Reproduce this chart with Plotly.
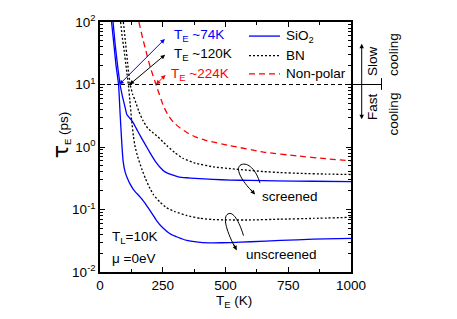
import plotly.graph_objects as go
import math

# ---------------- data ----------------
sio2_scr_T = [52, 60, 70, 80, 90, 100, 107, 115, 125, 135, 150, 165, 180, 200, 222, 240, 259, 285, 312, 345, 379, 450, 519, 600, 700, 850, 1000]
sio2_scr_tau = [100, 45, 20, 10, 6.3, 4.3, 3.3, 3.0, 2.7, 2.35, 1.8, 1.4, 1.1, 0.8, 0.58, 0.47, 0.40, 0.36, 0.334, 0.322, 0.314, 0.303, 0.296, 0.292, 0.288, 0.283, 0.279]

sio2_uns_T = [46, 55, 64, 74, 80, 86, 92, 100, 110, 120, 135, 150, 165, 180, 193, 210, 226, 250, 279, 310, 346, 400, 450, 520, 600, 720, 850, 1000]
sio2_uns_tau = [100, 45, 20, 10, 3.5, 1.3, 0.6, 0.40, 0.31, 0.255, 0.205, 0.175, 0.15, 0.125, 0.105, 0.083, 0.066, 0.051, 0.041, 0.036, 0.032, 0.0298, 0.0293, 0.0295, 0.0305, 0.032, 0.0335, 0.0345]

bn_scr_T = [93, 100, 110, 120, 130, 143, 155, 170, 190, 210, 231, 250, 270, 300, 330, 380, 452, 520, 585, 650, 718, 800, 900, 1000]
bn_scr_tau = [100, 55, 22, 10, 7, 5.1, 3.7, 2.7, 2.0, 1.7, 1.45, 1.22, 1.02, 0.80, 0.66, 0.55, 0.48, 0.45, 0.426, 0.405, 0.39, 0.378, 0.369, 0.363]

bn_uns_T = [82, 88, 96, 105, 113, 119, 126, 133, 140, 150, 166, 180, 196, 213, 240, 266, 300, 346, 400, 450, 520, 600, 718, 850, 1000]
bn_uns_tau = [100, 60, 35, 18, 10, 5.5, 2.7, 1.5, 1.0, 0.7, 0.45, 0.32, 0.23, 0.172, 0.13, 0.106, 0.092, 0.08, 0.072, 0.069, 0.068, 0.068, 0.070, 0.072, 0.075]

np_T = [155, 170, 186, 200, 223, 252, 270, 292, 320, 346, 380, 426, 519, 651, 785, 900, 1000]
np_tau = [100, 55, 31, 19, 10, 4.6, 3.3, 2.5, 2.0, 1.71, 1.45, 1.26, 1.05, 0.83, 0.72, 0.65, 0.6]

x_ticks = [0, 250, 500, 750, 1000]
x_ticklabels = ["0", "250", "500", "750", "1000"]
y_ticks = [0.01, 0.1, 1, 10, 100]
y_ticklabels = ["10<sup>-2</sup>", "10<sup>-1</sup>", "10<sup>0</sup>", "10<sup>1</sup>", "10<sup>2</sup>"]
threshold_tau = 10
crossings = [(77, "T<sub>E</sub> ~74K", "blue"), (118, "T<sub>E</sub> ~120K", "black"), (223, "T<sub>E</sub> ~224K", "red")]
legend_names = ["SiO<sub>2</sub>", "BN", "Non-polar"]

# ---------------- figure ----------------
W, H = 457, 319
ML, MR, MT, MB = 100, 106, 18, 47
PW, PH = W - ML - MR, H - MT - MB
FONT = "Liberation Sans, Arial, sans-serif"
FS = 13.5
BLUE, RED = "#0000ff", "#ff0000"
DOT, DASH = "2px,2px", "6px,4px"

def px(x, y):
    """pixel -> paper coordinates (for decorations)"""
    return (x - ML) / PW, (H - MB - y) / PH

fig = go.Figure()

def add(T, tau, color, dash, name):
    fig.add_trace(go.Scatter(
        x=T, y=tau, mode="lines", name=name, showlegend=False,
        line=dict(color=color, width=1.3, dash=dash, shape="spline", smoothing=0.3)))

add(sio2_scr_T, sio2_scr_tau, BLUE, "solid", legend_names[0])
add(sio2_uns_T, sio2_uns_tau, BLUE, "solid", legend_names[0])
add(bn_scr_T, bn_scr_tau, "black", DOT, legend_names[1])
add(bn_uns_T, bn_uns_tau, "black", DOT, legend_names[1])
add(np_T, np_tau, RED, DASH, legend_names[2])

minor_y = [m * 10 ** e for e in range(-2, 2) for m in range(2, 10)]

axis_common = dict(showline=True, linecolor="black", linewidth=1.5, mirror="allticks",
                   ticks="inside", ticklen=5, tickwidth=1.3, tickcolor="black",
                   showgrid=False, zeroline=False,
                   tickfont=dict(family=FONT, size=FS, color="black"))

fig.update_xaxes(range=[0, 1000], tickmode="array", tickvals=x_ticks, ticktext=x_ticklabels,
                 minor=dict(ticks="inside", ticklen=3, tickwidth=1.2, tickcolor="black",
                            tickvals=[125, 375, 625, 875], showgrid=False),
                 **axis_common)
fig.update_yaxes(type="log", range=[-2, 2], tickmode="array", tickvals=y_ticks, ticktext=y_ticklabels,
                 minor=dict(ticks="inside", ticklen=3, tickwidth=1.0, tickcolor="black",
                            tickmode="array", tickvals=minor_y, showgrid=False),
                 **axis_common)

shapes = []
# horizontal threshold line
shapes.append(dict(type="line", xref="paper", yref="y", x0=0, x1=1, y0=threshold_tau, y1=threshold_tau,
                   line=dict(color="black", width=1, dash="4px,3px")))
yth = (math.log10(threshold_tau) + 2) / 4
x_end = px(381.5, 0)[0]
shapes.append(dict(type="line", xref="paper", yref="paper", x0=1, x1=x_end, y0=yth, y1=yth,
                   line=dict(color="black", width=1)))
y1p = px(0, 75)[1]; y2p = px(0, 87)[1]
shapes.append(dict(type="line", xref="paper", yref="paper", x0=x_end, x1=x_end, y0=y1p, y1=y2p,
                   line=dict(color="black", width=1)))

def path_px(pts):
    s = ""
    for p in pts:
        if isinstance(p, str):
            s += p + " "
        else:
            a, b = px(*p)
            s += f"{a:.4f},{b:.4f} "
    return s.strip()

# curly arrows
shapes.append(dict(type="path", xref="paper", yref="paper",
                   path=path_px(["M", (260, 181.7), "C", (256, 168), (248, 160), (241, 163), "C", (235, 166), (240, 178), (254, 192)]),
                   line=dict(color="black", width=1)))
shapes.append(dict(type="path", xref="paper", yref="paper",
                   path=path_px(["M", (243.5, 235), "C", (239, 220), (233, 210), (228, 213), "C", (222, 216), (227, 232), (236, 249)]),
                   line=dict(color="black", width=1)))

ann = []
def txt(x, y, text, color="black", xanchor="left", yanchor="middle", size=FS, angle=0):
    a, b = px(x, y)
    ann.append(dict(xref="paper", yref="paper", x=a, y=b, text=text, showarrow=False,
                    xanchor=xanchor, yanchor=yanchor, textangle=angle,
                    font=dict(family=FONT, size=size, color=color)))

# manual legend
leg_styles = [(BLUE, "solid"), ("black", DOT), (RED, DASH)]
leg_y = [32.3, 52.2, 70.7]
for name, (col, dash), yy in zip(legend_names, leg_styles, leg_y):
    x0, y0 = px(249, yy); x1, _ = px(280, yy)
    shapes.append(dict(type="line", xref="paper", yref="paper", x0=x0, x1=x1, y0=y0, y1=y0,
                       line=dict(color=col, width=1.3, dash=dash)))
    txt(284, yy, name)

# crossing arrows and labels
offsets = {"blue": (47, -47), "black": (37, -31), "red": (11, -11)}
label_pos = {"blue": (171.5, 31.5), "black": (171.5, 51.5), "red": (168.5, 71)}
for T, lab, col in crossings:
    dx, dy = offsets[col]
    ann.append(dict(x=T, y=math.log10(threshold_tau), xref="x", yref="y", text="", showarrow=True,
                    ax=dx, ay=dy, axref="pixel", ayref="pixel", arrowhead=2, arrowside="end+start",
                    arrowsize=0.9, arrowwidth=1, arrowcolor=col, standoff=0, startstandoff=0))
    txt(label_pos[col][0], label_pos[col][1], lab, color=col)

# curly arrow heads
for (hx, hy, dx, dy) in [(255, 193.3, -6, -7), (236.7, 250, -4, -8)]:
    a, b = px(hx, hy)
    ann.append(dict(xref="paper", yref="paper", x=a, y=b, text="", showarrow=True, ax=dx, ay=dy,
                    arrowhead=2, arrowsize=0.9, arrowwidth=1, arrowcolor="black", standoff=0))

txt(260, 195, "screened")
txt(244, 254.5, "unscreened")
txt(110, 237, "T<sub>L</sub>=10K")
txt(110, 258.5, "μ =0eV")

# cooling arrows and labels
a, b = px(361.7, 40)
ann.append(dict(xref="paper", yref="paper", x=a, y=b, text="", showarrow=True, ax=0, ay=77,
                arrowhead=2, arrowside="end+start", arrowsize=0.9, arrowwidth=1, arrowcolor="black",
                standoff=0, startstandoff=0))
txt(372.5, 75.5, "Slow", xanchor="center", yanchor="bottom", angle=-90)
txt(393, 75.5, "cooling", xanchor="center", yanchor="bottom", angle=-90)
txt(372.5, 88, "Fast", xanchor="center", yanchor="top", angle=-90)
txt(393, 88, "cooling", xanchor="center", yanchor="top", angle=-90)

# axis titles
txt(60, 133, "<span style='font-family:DejaVu Sans;font-size:22px'>τ</span><sub>E</sub> (ps)", xanchor="center", yanchor="middle", angle=-90)
txt(234, 302, "T<sub>E</sub> (K)", xanchor="center", yanchor="middle")

fig.update_layout(
    width=W, height=H, margin=dict(l=ML, r=MR, t=MT, b=MB, pad=0),
    paper_bgcolor="white", plot_bgcolor="white",
    font=dict(family=FONT, size=FS, color="black"),
    showlegend=False,
    shapes=shapes, annotations=ann,
)

fig.write_html("out.html", config={"displayModeBar": False},
               post_script="document.body.style.margin='0px';")
